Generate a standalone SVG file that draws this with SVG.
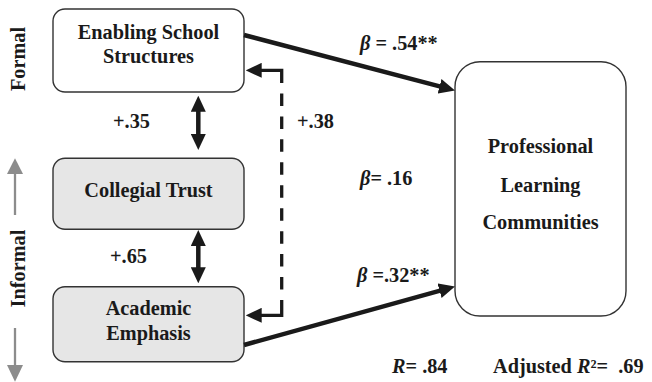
<svg xmlns="http://www.w3.org/2000/svg" width="652" height="382" viewBox="0 0 652 382">
<style>
text{font-family:"Liberation Serif","Times New Roman",serif;font-weight:bold;font-size:20.3px;fill:#1a1a1a}
.node{stroke:#333;stroke-width:1.4}
.white{fill:#fff}
.grey{fill:#e6e6e6}
.c{text-anchor:middle}
.arr{fill:none;stroke:#1a1a1a;stroke-width:4.5}
.dash{fill:none;stroke:#1a1a1a;stroke-width:3.3}
.ga{stroke:#8c8c8c;stroke-width:2.3;fill:none}
</style>
<defs>
<marker id="ah" markerWidth="16" markerHeight="15" refX="10" refY="7.5" orient="auto-start-reverse" markerUnits="userSpaceOnUse">
<path d="M0,0 L16,7.5 L0,15 z" fill="#1a1a1a"/>
</marker>
</defs>

<g id="side-labels">
<text class="c" transform="translate(25,59) rotate(-90)">Formal</text>
<text class="c" transform="translate(25,268.5) rotate(-90)">Informal</text>
<line class="ga" x1="15" y1="172" x2="15" y2="215"/>
<path d="M7,174 L15,158.3 L23,174 z" fill="#8c8c8c"/>
<line class="ga" x1="15" y1="328" x2="15" y2="367"/>
<path d="M7,365 L15,381.7 L23,365 z" fill="#8c8c8c"/>
</g>

<g id="enabling">
<rect class="node white" x="53" y="9" width="191" height="83" rx="12"/>
<text class="c" x="148.5" y="38.5">Enabling School</text>
<text class="c" x="148.5" y="63">Structures</text>
</g>

<g id="collegial">
<rect class="node grey" x="53" y="158.3" width="191" height="71" rx="12"/>
<text class="c" x="148.5" y="196.7">Collegial Trust</text>
</g>

<g id="academic">
<rect class="node grey" x="53" y="286.7" width="191" height="75" rx="12"/>
<text class="c" x="148.5" y="315">Academic</text>
<text class="c" x="148.5" y="340">Emphasis</text>
</g>

<g id="plc">
<rect class="node white" x="455" y="61.7" width="171" height="254.3" rx="25"/>
<text class="c" x="540.5" y="153">Professional</text>
<text class="c" x="540.5" y="191.5">Learning</text>
<text class="c" x="540.5" y="228.5">Communities</text>
</g>

<g id="connectors">
<line class="arr" x1="244" y1="35" x2="449.2" y2="88.9" marker-end="url(#ah)"/>
<line class="arr" x1="244" y1="345" x2="449.2" y2="288.1" marker-end="url(#ah)"/>
<line class="arr" x1="198.3" y1="101.7" x2="198.3" y2="144" marker-start="url(#ah)" marker-end="url(#ah)"/>
<line class="arr" x1="198.3" y1="236" x2="198.3" y2="277.3" marker-start="url(#ah)" marker-end="url(#ah)"/>
<path class="dash" d="M281.7,83 V70.3 H251.7" marker-end="url(#ah)"/>
<path class="dash" d="M281.7,93.45 V289.55" stroke-dasharray="12.5 10.45"/>
<path class="dash" d="M281.7,300 V315.3 H251.7" marker-end="url(#ah)"/>
</g>

<g id="labels">
<text x="113" y="128">+.35</text>
<text x="110" y="263">+.65</text>
<text x="297" y="128">+.38</text>
<text x="360" y="50"><tspan font-style="italic">β</tspan> = .54**</text>
<text x="360" y="185"><tspan font-style="italic">β</tspan>= .16</text>
<text x="357" y="281.7"><tspan font-style="italic">β</tspan> =.32**</text>
<text x="392" y="373"><tspan font-style="italic">R</tspan>= .84</text>
<text x="493" y="373">Adjusted <tspan font-style="italic">R</tspan>²=&#160; .69</text>
</g>
</svg>
